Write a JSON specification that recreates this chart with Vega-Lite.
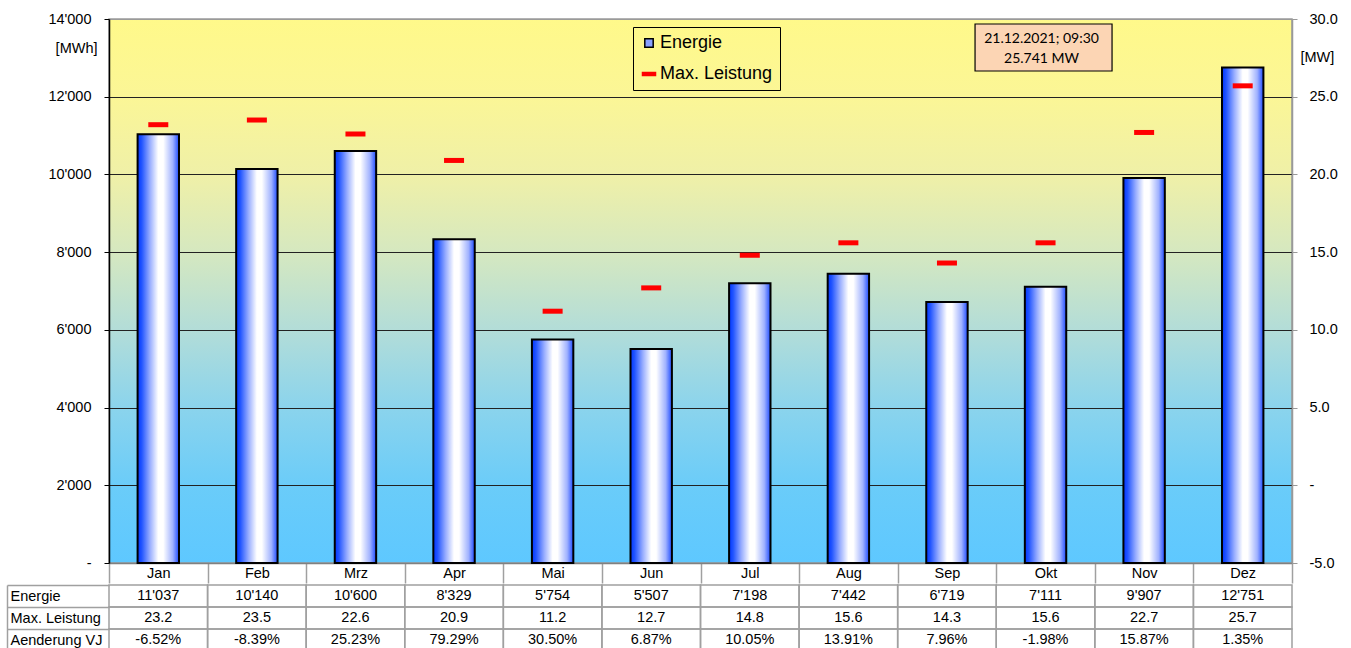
{
  "$schema": "https://vega.github.io/schema/vega-lite/v6.json",
  "padding": {"left": 6, "top": 10, "right": 5, "bottom": 0},
  "background": "white",
  "spacing": -10,
  "config": {
    "locale": {"number": {"decimal": ".", "thousands": "'", "grouping": [3], "currency": ["", ""], "minus": "-"}},
    "font": "Liberation Sans",
    "axis": {"labelFont": "Liberation Sans", "labelFontSize": 14.5, "labelColor": "#000", "titleFont": "Liberation Sans", "titleFontSize": 14.5, "titleFontWeight": "normal", "titleColor": "#000"},
    "legend": {"symbolFillColor": "#8AA2FF", "symbolOpacity": 1}
  },
  "datasets": {
    "monate": [
      {"monat": "Jan", "energie": 11037, "leistung": 23.2, "aenderung": -0.0652},
      {"monat": "Feb", "energie": 10140, "leistung": 23.5, "aenderung": -0.0839},
      {"monat": "Mrz", "energie": 10600, "leistung": 22.6, "aenderung": 0.2523},
      {"monat": "Apr", "energie": 8329, "leistung": 20.9, "aenderung": 0.7929},
      {"monat": "Mai", "energie": 5754, "leistung": 11.2, "aenderung": 0.3050},
      {"monat": "Jun", "energie": 5507, "leistung": 12.7, "aenderung": 0.0687},
      {"monat": "Jul", "energie": 7198, "leistung": 14.8, "aenderung": 0.1005},
      {"monat": "Aug", "energie": 7442, "leistung": 15.6, "aenderung": 0.1391},
      {"monat": "Sep", "energie": 6719, "leistung": 14.3, "aenderung": 0.0796},
      {"monat": "Okt", "energie": 7111, "leistung": 15.6, "aenderung": -0.0198},
      {"monat": "Nov", "energie": 9907, "leistung": 22.7, "aenderung": 0.1587},
      {"monat": "Dez", "energie": 12751, "leistung": 25.7, "aenderung": 0.0135}
    ],
    "serien": [
      {"serie": "Energie"},
      {"serie": "Max. Leistung"}
    ]
  },
  "vconcat": [
    {
      "width": 1183,
      "height": 544,
      "view": {
        "fill": {"gradient": "linear", "x1": 0, "y1": 0, "x2": 0, "y2": 1, "stops": [
          {"offset": 0, "color": "#FFF98A"},
          {"offset": 0.14, "color": "#FBF696"},
          {"offset": 0.29, "color": "#EFF0A8"},
          {"offset": 0.43, "color": "#D5E8C0"},
          {"offset": 0.57, "color": "#B3DDD8"},
          {"offset": 0.71, "color": "#8CD4EC"},
          {"offset": 0.86, "color": "#6ACCF9"},
          {"offset": 1, "color": "#5EC8FF"}
        ]},
        "stroke": "#9a9a9a",
        "strokeWidth": 1.5
      },
      "resolve": {"scale": {"y": "independent"}},
      "layer": [
        {
          "layer": [
            {
              "data": {"name": "monate"},
              "mark": {
                "type": "bar",
                "width": {"band": 0.42},
                "stroke": "#000",
                "strokeWidth": 2,
                "fill": {"gradient": "linear", "x1": 0, "y1": 0, "x2": 1, "y2": 0, "stops": [
                  {"offset": 0, "color": "#0036FF"},
                  {"offset": 0.1, "color": "#2255FF"},
                  {"offset": 0.3, "color": "#99AEFF"},
                  {"offset": 0.5, "color": "#FFFFFF"},
                  {"offset": 0.62, "color": "#FFFFFF"},
                  {"offset": 0.85, "color": "#A0B2FF"},
                  {"offset": 1, "color": "#1E4BFF"}
                ]}
              },
              "encoding": {
                "x": {
                  "field": "monat", "type": "nominal", "sort": null,
                  "scale": {"domain": ["Jan","Feb","Mrz","Apr","Mai","Jun","Jul","Aug","Sep","Okt","Nov","Dez"], "paddingInner": 0, "paddingOuter": 0},
                  "axis": {"title": null, "orient": "bottom", "labelAngle": 0, "tickBand": "extent", "tickSize": 20, "tickColor": "#a0a0a0", "tickWidth": 1.5, "domainColor": "#808080", "domainWidth": 1.5, "labelPadding": -10, "labelBaseline": "middle", "labelFontSize": 14.5}
                },
                "y": {
                  "field": "energie", "type": "quantitative",
                  "scale": {"domain": [0, 14000], "nice": false, "zero": false},
                  "axis": {
                    "orient": "left",
                    "values": [0, 2000, 4000, 6000, 8000, 10000, 12000, 14000],
                    "labelExpr": "datum.value == 0 ? '-' : format(datum.value, ',')",
                    "grid": true,
                    "gridColor": {"condition": {"test": "datum.value == 0 || datum.value == 14000", "value": "#9a9a9a"}, "value": "#222222"},
                    "gridWidth": 1,
                    "tickSize": 5,
                    "tickColor": "#000",
                    "domainColor": "#000",
                    "domainWidth": 1.5,
                    "labelPadding": 13,
                    "title": "[MWh]",
                    "titleAngle": 0,
                    "titleX": -12,
                    "titleY": 29,
                    "titleAlign": "right",
                    "titleBaseline": "middle"
                  }
                }
              }
            },
            {
              "data": {"values": [{}]},
              "mark": {"type": "bar", "width": 137, "xOffset": -2, "fill": "#FCD5B4", "stroke": "#000", "strokeWidth": 1.2},
              "encoding": {
                "x": {"datum": "Okt", "type": "nominal"},
                "y": {"datum": 13871, "type": "quantitative"},
                "y2": {"datum": 12662}
              }
            },
            {
              "data": {"values": [{}]},
              "mark": {"type": "text", "text": ["21.12.2021; 09:30", "25.741 MW"], "font": "Lato", "fontSize": 14, "lineHeight": 20, "align": "center", "baseline": "middle", "color": "#000", "dx": -4},
              "encoding": {
                "x": {"datum": "Okt", "type": "nominal"},
                "y": {"datum": 13485, "type": "quantitative"}
              }
            }
          ]
        },
        {
          "layer": [
            {
              "data": {"name": "monate"},
              "mark": {"type": "tick", "size": 20, "thickness": 5, "opacity": 1, "color": "#FF0000"},
              "encoding": {
                "x": {"field": "monat", "type": "nominal", "sort": null},
                "y": {
                  "field": "leistung", "type": "quantitative",
                  "scale": {"domain": [-5, 30], "nice": false, "zero": false},
                  "axis": {
                    "orient": "right",
                    "values": [-5, 0, 5, 10, 15, 20, 25, 30],
                    "labelExpr": "datum.value == 0 ? '-' : format(datum.value, '.1f')",
                    "grid": false,
                    "tickSize": 5,
                    "tickColor": "#999",
                    "domainColor": "#999",
                    "domainWidth": 1.5,
                    "labelAlign": "left",
                    "labelPadding": 12,
                    "title": "[MW]",
                    "titleAngle": 0,
                    "titleX": 8,
                    "titleY": 38,
                    "titleAlign": "left",
                    "titleBaseline": "middle"
                  }
                }
              }
            },
            {
              "data": {"name": "serien"},
              "mark": {"type": "point", "filled": true, "opacity": 0},
              "encoding": {
                "x": {"datum": "Jan", "type": "nominal"},
                "y": {"datum": 0, "type": "quantitative"},
                "color": {
                  "field": "serie", "type": "nominal",
                  "scale": {"domain": ["Energie", "Max. Leistung"], "range": ["#8AA2FF", "#FF0000"]},
                  "legend": {
                    "title": null,
                    "orient": "none",
                    "legendX": 524,
                    "legendY": 8,
                    "direction": "vertical",
                    "strokeColor": "#000",
                    "padding": 7,
                    "labelFont": "Liberation Sans",
                    "labelFontSize": 18,
                    "labelColor": "#000",
                    "rowPadding": 13,
                    "labelOffset": 2,
                    "labelLimit": 300,
                    "symbolSize": 196,
                    "symbolOpacity": 1,
                    "symbolStrokeWidth": 1.5
                  }
                },
                "shape": {
                  "field": "serie", "type": "nominal",
                  "scale": {"domain": ["Energie", "Max. Leistung"], "range": ["M-0.6,-0.6H0.6V0.6H-0.6Z", "M-0.93,-0.2H0.93V0.2H-0.93Z"]}
                },
                "stroke": {
                  "field": "serie", "type": "nominal",
                  "scale": {"domain": ["Energie", "Max. Leistung"], "range": ["#000000", "#FF0000"]}
                }
              }
            }
          ]
        }
      ]
    },
    {
      "width": 1183,
      "height": 66,
      "view": {"stroke": null},
      "data": {"name": "monate"},
      "layer": [
        {
          "transform": [{"fold": ["energie", "leistung", "aenderung"], "as": ["zeile", "wert"]}],
          "mark": {"type": "rect", "fill": "transparent", "stroke": "#a0a0a0", "strokeWidth": 1.5},
          "encoding": {
            "x": {
              "field": "monat", "type": "nominal", "sort": null,
              "scale": {"domain": ["Jan","Feb","Mrz","Apr","Mai","Jun","Jul","Aug","Sep","Okt","Nov","Dez"], "paddingInner": 0, "paddingOuter": 0},
              "axis": null
            },
            "y": {
              "field": "zeile", "type": "nominal", "sort": null,
              "scale": {"domain": ["energie", "leistung", "aenderung"], "paddingInner": 0, "paddingOuter": 0},
              "axis": {
                "orient": "left",
                "title": null,
                "offset": 102,
                "domain": true,
                "domainColor": "#a0a0a0",
                "domainWidth": 1.5,
                "ticks": true,
                "tickBand": "extent",
                "tickSize": -102,
                "tickColor": "#a0a0a0",
                "tickWidth": 1.5,
                "labelAlign": "left",
                "labelBaseline": "middle",
                "labelPadding": 99,
                "labelFontSize": 14.5,
                "labelExpr": "datum.value == 'energie' ? 'Energie' : datum.value == 'leistung' ? 'Max. Leistung' : datum.value == 'aenderung' ? 'Aenderung VJ' : ''"
              }
            }
          }
        },
        {
          "mark": {"type": "text", "font": "Liberation Sans", "fontSize": 14.5, "color": "#000"},
          "encoding": {
            "x": {"field": "monat", "type": "nominal", "sort": null},
            "y": {"datum": "energie", "type": "nominal"},
            "text": {"field": "energie", "type": "quantitative", "format": ","}
          }
        },
        {
          "mark": {"type": "text", "font": "Liberation Sans", "fontSize": 14.5, "color": "#000"},
          "encoding": {
            "x": {"field": "monat", "type": "nominal", "sort": null},
            "y": {"datum": "leistung", "type": "nominal"},
            "text": {"field": "leistung", "type": "quantitative", "format": ".1f"}
          }
        },
        {
          "mark": {"type": "text", "font": "Liberation Sans", "fontSize": 14.5, "color": "#000"},
          "encoding": {
            "x": {"field": "monat", "type": "nominal", "sort": null},
            "y": {"datum": "aenderung", "type": "nominal"},
            "text": {"field": "aenderung", "type": "quantitative", "format": ".2%"}
          }
        }
      ]
    }
  ]
}
